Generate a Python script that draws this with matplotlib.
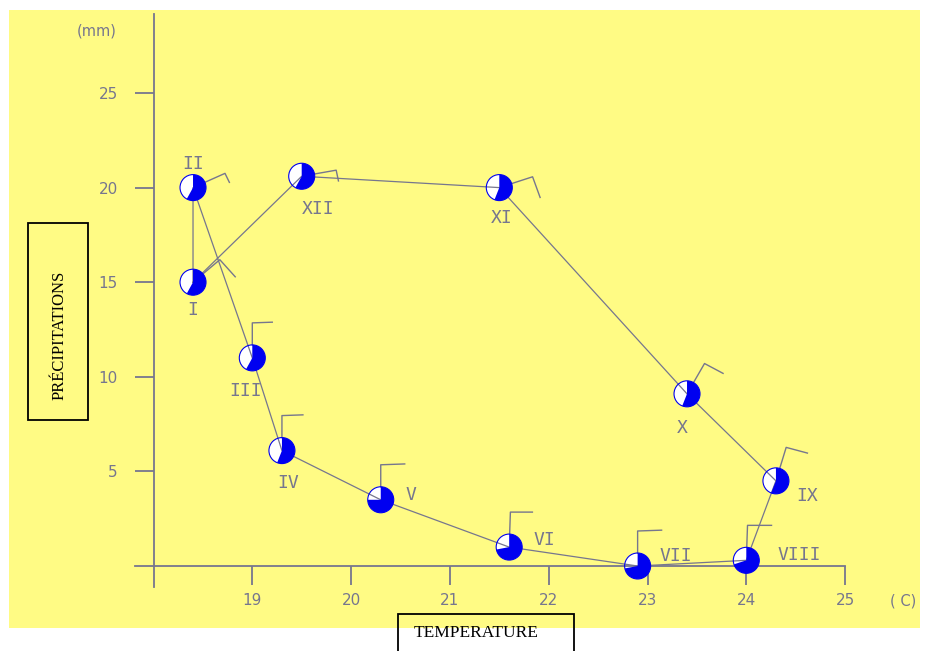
import numpy as np
import matplotlib.pyplot as plt
from matplotlib.patches import Wedge, Circle, Rectangle
from matplotlib.transforms import ScaledTranslation

# climate diagram data (one point per month)
months = ["I", "II", "III", "IV", "V", "VI", "VII", "VIII", "IX", "X", "XI", "XII"]
temperature = [18.4, 18.4, 19.0, 19.3, 20.3, 21.6, 22.9, 24.0, 24.3, 23.4, 21.5, 19.5]
precipitation = [15.0, 20.0, 11.0, 6.1, 3.5, 1.0, 0.0, 0.3, 4.5, 9.1, 20.0, 20.6]
white_share = [0.42, 0.42, 0.42, 0.44, 0.25, 0.28, 0.28, 0.30, 0.44, 0.44, 0.44, 0.42]
wind_dir = [40, 24, 90, 90, 90, 88, 90, 88, 73, 60, 18, 10]
barb_len = [23, 10, 20, 21, 24, 22, 24, 24, 22, 21, 22, 11]
x_ticks = [19, 20, 21, 22, 23, 24, 25]
y_ticks = [5, 10, 15, 20, 25]

# label offsets in pixels (dx, dy)
label_off = [(0, -28), (0, 24), (-7, -33), (6, -32), (30, 5), (35, 7),
             (38, 10), (53, 5), (31, -15), (-5, -34), (2, -30), (16, -33)]

YELLOW = "#fffb84"
GRAY = "#76768e"
BLUE = "#0000f0"
W, H = 925, 651


def px(x, y):
    return x / W, 1 - y / H


fig = plt.figure(figsize=(9.25, 6.51), dpi=100)
fig.patch.set_facecolor("white")
fig.add_artist(Rectangle(px(9, 628), 911 / W, 618 / H, transform=fig.transFigure,
                         facecolor=YELLOW, edgecolor="none", zorder=0))

ax = fig.add_axes([0, 0, 1, 1])
ax.patch.set_visible(False)
ax.set_xlim(18 + (0 - 153.5) / 98.8, 18 + (925 - 153.5) / 98.8)
ax.set_ylim((566 - 651) / 18.92, 566 / 18.92)

for side in ["top", "right"]:
    ax.spines[side].set_visible(False)
ax.spines["left"].set_position(("data", 18))
ax.spines["bottom"].set_position(("data", 0))
ax.spines["left"].set_bounds(-1.1, 29.2)
ax.spines["bottom"].set_bounds(17.81, 25)
for side in ["left", "bottom"]:
    ax.spines[side].set_color(GRAY)
    ax.spines[side].set_linewidth(1.3)

ax.set_xticks(x_ticks)
ax.set_yticks(y_ticks)
ax.tick_params(direction="out", length=13.7, width=1.3, color=GRAY,
               labelcolor=GRAY, labelsize=11)
ax.tick_params(axis="x", pad=6)
ax.tick_params(axis="y", pad=12)

# connecting path, closed back to January
ax.plot(temperature + temperature[:1], precipitation + precipitation[:1],
        color=GRAY, lw=0.9, zorder=2)

r = 0.13
for i, m in enumerate(months):
    tr = fig.dpi_scale_trans + ScaledTranslation(temperature[i], precipitation[i], ax.transData)
    ax.add_patch(Circle((0, 0), r, transform=tr, facecolor="white", edgecolor="none", zorder=1))
    w_end = 90 + 360 * white_share[i]
    ax.add_patch(Wedge((0, 0), r, w_end, 450, transform=tr, facecolor=BLUE,
                       edgecolor="none", zorder=3))
    ax.add_patch(Circle((0, 0), r, transform=tr, facecolor="none", edgecolor=BLUE,
                        lw=0.8, zorder=3))
    # wind flag
    a = np.radians(wind_dir[i])
    b = np.radians(wind_dir[i] - 88)
    x0, y0 = r * np.cos(a), r * np.sin(a)
    x1, y1 = 0.35 * np.cos(a), 0.35 * np.sin(a)
    x2, y2 = x1 + barb_len[i] / 100 * np.cos(b), y1 + barb_len[i] / 100 * np.sin(b)
    ax.plot([x0, x1, x2], [y0, y1, y2], transform=tr, color=GRAY, lw=1.0, zorder=2)
    dx, dy = label_off[i]
    ax.text(dx / 100, dy / 100, m, transform=tr, ha="center", va="center",
            family="DejaVu Sans Mono", fontsize=13, color=GRAY, zorder=4)

fig.text(*px(97, 31), "(mm)", ha="center", va="center", fontsize=10.5, color=GRAY)
fig.text(*px(903, 601), "( C)", ha="center", va="center", fontsize=10.5, color=GRAY)

fig.add_artist(Rectangle(px(28, 420), 60 / W, 197 / H, transform=fig.transFigure,
                         facecolor="none", edgecolor="black", lw=1.3))
fig.text(*px(60, 335), "PRÉCIPITATIONS", rotation=90, ha="center", va="center",
         family="Liberation Serif", fontsize=12, color="black")
fig.add_artist(Rectangle(px(398, 670), 176 / W, 56 / H, transform=fig.transFigure,
                         facecolor="none", edgecolor="black", lw=1.3))
fig.text(*px(476, 633), "TEMPERATURE", ha="center", va="center",
         family="Liberation Serif", fontsize=12.5, color="black")

fig.savefig("out.png", dpi=100)
